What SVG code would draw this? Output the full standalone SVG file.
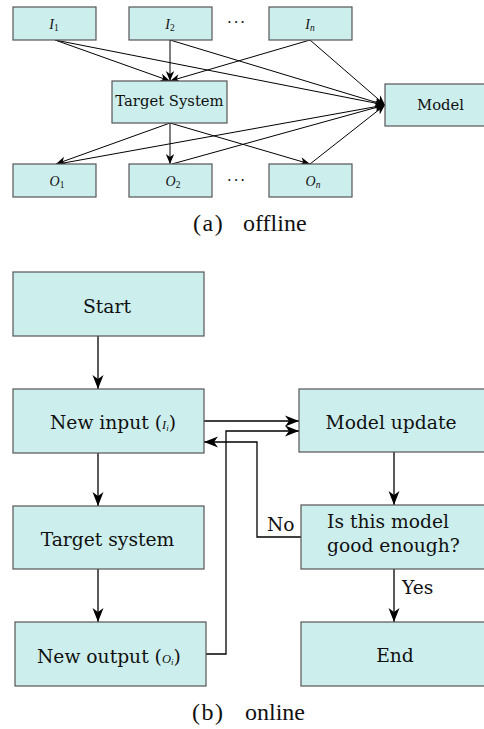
<svg xmlns="http://www.w3.org/2000/svg" width="484" height="729" viewBox="0 0 484 729">
  <style>
    .box { fill: #cceeec; stroke: #555; stroke-width: 1.2; }
    .t14 { font-family: "DejaVu Serif", serif; font-size: 14.8px; fill: #111; }
    .t18 { font-family: "DejaVu Serif", serif; font-size: 18.7px; fill: #111; }
    .math { font-family: "Liberation Serif", serif; font-style: italic; fill: #111; }
    .cap { font-family: "Liberation Serif", serif; font-size: 24px; fill: #111; }
    .e1 { fill: none; stroke: #000; stroke-width: 1; }
    .e2 { fill: none; stroke: #000; stroke-width: 1.3; }
  </style>
  <defs>
    <marker id="a1" viewBox="-11 -5 12 10" refX="0" refY="0" markerWidth="12" markerHeight="10" orient="auto" markerUnits="userSpaceOnUse">
      <path d="M0,0 L-10,-4.2 L-7,0 L-10,4.2 z" fill="#000"/>
    </marker>
    <marker id="a2" viewBox="-15 -6 16 12" refX="0" refY="0" markerWidth="16" markerHeight="12" orient="auto" markerUnits="userSpaceOnUse">
      <path d="M0,0 L-14,-5.5 L-10,0 L-14,5.5 z" fill="#000"/>
    </marker>
  </defs>

  <!-- (a) offline: inputs, target system, outputs, model -->
  <g id="connectors-a">
    <line class="e1" x1="55" y1="40" x2="170" y2="81" marker-end="url(#a1)"/>
    <line class="e1" x1="55" y1="40" x2="385" y2="105" marker-end="url(#a1)"/>
    <line class="e1" x1="170" y1="40" x2="170" y2="81" marker-end="url(#a1)"/>
    <line class="e1" x1="170" y1="40" x2="385" y2="105" marker-end="url(#a1)"/>
    <line class="e1" x1="310" y1="40" x2="170" y2="81" marker-end="url(#a1)"/>
    <line class="e1" x1="310" y1="40" x2="385" y2="105" marker-end="url(#a1)"/>
    <line class="e1" x1="170" y1="123" x2="56" y2="164" marker-end="url(#a1)"/>
    <line class="e1" x1="170" y1="123" x2="170" y2="164" marker-end="url(#a1)"/>
    <line class="e1" x1="170" y1="123" x2="310" y2="164" marker-end="url(#a1)"/>
    <line class="e1" x1="58" y1="164" x2="385" y2="105" marker-end="url(#a1)"/>
    <line class="e1" x1="172" y1="164" x2="385" y2="105" marker-end="url(#a1)"/>
    <line class="e1" x1="310" y1="164" x2="385" y2="105" marker-end="url(#a1)"/>
  </g>

  <g id="in1">
    <rect class="box" x="13" y="7" width="83" height="33"/>
    <text class="math" x="54" y="29" font-size="14" text-anchor="middle">I<tspan font-style="normal" font-size="9.5" dy="2">1</tspan></text>
  </g>
  <g id="in2">
    <rect class="box" x="129" y="7" width="83" height="33"/>
    <text class="math" x="170" y="29" font-size="14" text-anchor="middle">I<tspan font-style="normal" font-size="9.5" dy="2">2</tspan></text>
  </g>
  <g id="inN">
    <rect class="box" x="269" y="7" width="83" height="33"/>
    <text class="math" x="310" y="29" font-size="14" text-anchor="middle">I<tspan font-size="9.5" dy="2">n</tspan></text>
  </g>
  <text class="t14" x="237" y="27" text-anchor="middle" letter-spacing="2">···</text>

  <g id="target-a">
    <rect class="box" x="112" y="81" width="115" height="42"/>
    <text class="t14" x="169.5" y="106" text-anchor="middle">Target System</text>
  </g>
  <g id="model-a">
    <rect class="box" x="385" y="84" width="105" height="42"/>
    <text class="t14" x="440.5" y="110" text-anchor="middle">Model</text>
  </g>

  <g id="out1">
    <rect class="box" x="13" y="164" width="83" height="33"/>
    <text class="math" x="57" y="186" font-size="14" text-anchor="middle">O<tspan font-style="normal" font-size="9.5" dy="2">1</tspan></text>
  </g>
  <g id="out2">
    <rect class="box" x="129" y="164" width="83" height="33"/>
    <text class="math" x="173" y="186" font-size="14" text-anchor="middle">O<tspan font-style="normal" font-size="9.5" dy="2">2</tspan></text>
  </g>
  <g id="outN">
    <rect class="box" x="269" y="164" width="83" height="33"/>
    <text class="math" x="313" y="186" font-size="14" text-anchor="middle">O<tspan font-size="9.5" dy="2">n</tspan></text>
  </g>
  <text class="t14" x="237" y="185" text-anchor="middle" letter-spacing="2">···</text>

  <text class="cap" x="193" y="231" letter-spacing="1.5">(a)</text>
  <text class="cap" x="243" y="231">offline</text>

  <!-- (b) online: flowchart -->
  <g id="connectors-b">
    <line class="e2" x1="98" y1="336" x2="98" y2="389" marker-end="url(#a2)"/>
    <line class="e2" x1="98" y1="453" x2="98" y2="506" marker-end="url(#a2)"/>
    <line class="e2" x1="98" y1="569" x2="98" y2="622" marker-end="url(#a2)"/>
    <line class="e2" x1="204" y1="421" x2="299" y2="421" marker-end="url(#a2)"/>
    <polyline class="e2" points="206,654 226,654 226,431 299,431" marker-end="url(#a2)"/>
    <polyline class="e2" points="301,537 257,537 257,442 204,442" marker-end="url(#a2)"/>
    <line class="e2" x1="394" y1="452" x2="394" y2="505" marker-end="url(#a2)"/>
    <line class="e2" x1="394" y1="569" x2="394" y2="622" marker-end="url(#a2)"/>
    <text class="t18" x="267" y="531">No</text>
    <text class="t18" x="402" y="594">Yes</text>
  </g>

  <g id="start">
    <rect class="box" x="13" y="272" width="191" height="64"/>
    <text class="t18" x="107" y="312.5" text-anchor="middle">Start</text>
  </g>
  <g id="new-input">
    <rect class="box" x="13" y="389" width="191" height="64"/>
    <text class="t18" x="50" y="428.5">New input (<tspan class="math" font-size="12.5">I</tspan><tspan class="math" font-size="9" dy="2">i</tspan><tspan dy="-2">)</tspan></text>
  </g>
  <g id="target-b">
    <rect class="box" x="13" y="506" width="191" height="63"/>
    <text class="t18" x="107.5" y="545.5" text-anchor="middle">Target system</text>
  </g>
  <g id="new-output">
    <rect class="box" x="15" y="622" width="191" height="64"/>
    <text class="t18" x="37" y="662.5">New output (<tspan class="math" font-size="12.5">O</tspan><tspan class="math" font-size="9" dy="2">i</tspan><tspan dy="-2">)</tspan></text>
  </g>
  <g id="model-update">
    <rect class="box" x="299" y="389" width="191" height="63"/>
    <text class="t18" x="391" y="429" text-anchor="middle">Model update</text>
  </g>
  <g id="good-enough">
    <rect class="box" x="301" y="505" width="191" height="64"/>
    <text class="t18" x="327" y="528">Is this model</text>
    <text class="t18" x="327" y="552">good enough?</text>
  </g>
  <g id="end">
    <rect class="box" x="301" y="622" width="191" height="64"/>
    <text class="t18" x="395" y="662" text-anchor="middle">End</text>
  </g>

  <text class="cap" x="192" y="720" letter-spacing="1.5">(b)</text>
  <text class="cap" x="245" y="720">online</text>
</svg>
